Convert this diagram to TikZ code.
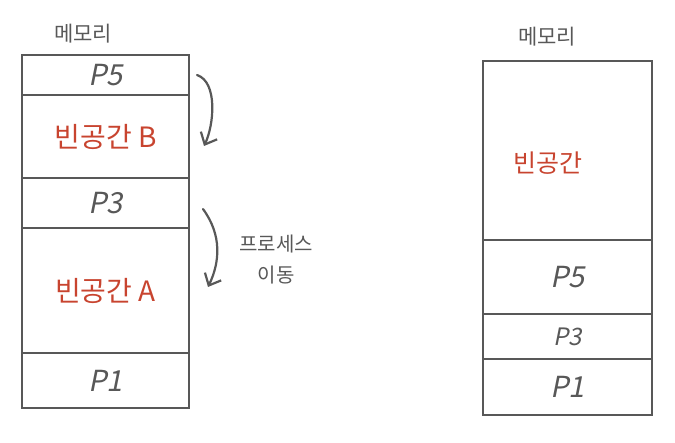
\documentclass[tikz,border=0pt]{standalone}
\usepackage{fontspec}
\setmainfont{Noto Sans CJK KR}
\newfontfamily\handslant[FakeSlant=0.2]{Noto Sans CJK KR}
\usepackage{tikz}
\usetikzlibrary{arrows.meta,positioning}
\definecolor{mGray}{HTML}{585858}
\definecolor{mRed}{HTML}{C8442F}
\tikzset{
  >={Straight Barb[length=10pt,width=18pt,line width=2.2pt]},
  seg/.style  ={rectangle,draw=mGray,line width=2.5pt,outer sep=0pt,inner sep=0pt,text=mGray,font=\handslant\fontsize{29}{31}\selectfont},
  lseg/.style ={seg,minimum width=167pt},
  rseg/.style ={seg,minimum width=169pt},
  free/.style ={text=mRed,font=\fontsize{28}{30}\selectfont},
  title/.style={text=mGray,font=\fontsize{21}{23}\selectfont},
  move/.style ={->,line width=2.2pt,mGray,line cap=round},
}
\begin{document}
\begin{tikzpicture}[x=1pt,y=-1pt]
  \useasboundingbox (0,0) rectangle (675,443);
  % before compaction
  \node[title] (lmem) at (83,34) {메모리};
  \node[lseg,minimum height=40pt,anchor=north west] (lp5) at (22,55) {P5};
  \node[lseg,minimum height=83pt,below=0pt of lp5,free] (lfreeb) {빈공간 B};
  \node[lseg,minimum height=50pt,below=0pt of lfreeb] (lp3) {P3};
  \node[lseg,minimum height=125pt,below=0pt of lp3,free] (lfreea) {빈공간 A};
  \node[lseg,minimum height=55pt,below=0pt of lfreea] (lp1) {P1};
  % moves
  \coordinate (m1s) at (197,75);
  \coordinate (m1e) at (204,146);
  \coordinate (m2s) at (203,209);
  \coordinate (m2e) at (208,287);
  \draw[move] (m1s) .. controls (218,82) and (214,125) .. (m1e);
  \draw[move] (m2s) .. controls (222,235) and (220,262) .. (m2e);
  \node[title,align=center,font=\fontsize{20}{31}\selectfont] (lmove) at (276,260) {프로세스\\이동};
  % after compaction
  \node[title] (rmem) at (547,37) {메모리};
  \node[rseg,minimum height=179pt,anchor=north west] (rfree) at (483,61) {};
  \node[free,font=\fontsize{25}{27}\selectfont] (rfreet) at (548,163) {빈공간};
  \node[rseg,minimum height=74pt,below=0pt of rfree] (rp5) {P5};
  \node[rseg,minimum height=45pt,below=0pt of rp5,font=\handslant\fontsize{24}{26}\selectfont] (rp3) {P3};
  \node[rseg,minimum height=56pt,below=0pt of rp3] (rp1) {P1};
\end{tikzpicture}
\end{document}
